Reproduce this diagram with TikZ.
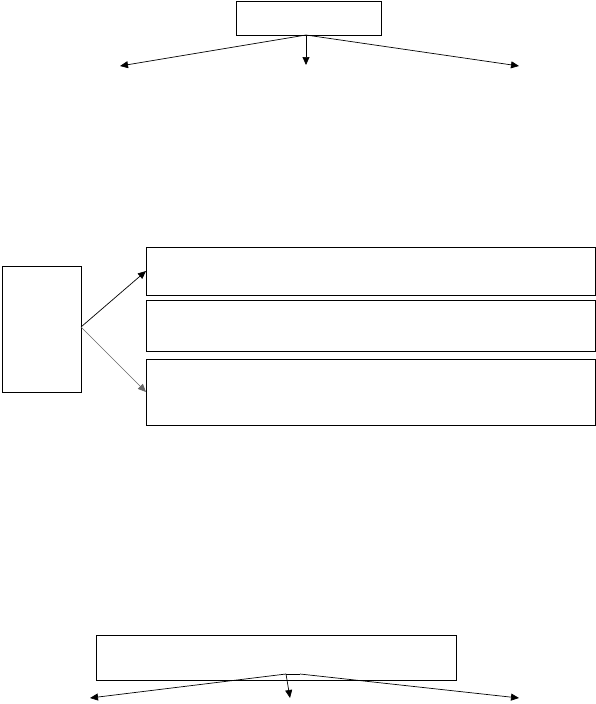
\documentclass[tikz,border=0pt]{standalone}
\usetikzlibrary{arrows.meta}
\begin{document}
\begin{tikzpicture}[x=1pt,y=-1pt,
  boxline/.style={draw=black,line width=0.9pt},
  conn/.style={draw=black,line width=0.7pt,-{Triangle[length=8pt,width=7pt]}},
  conngray/.style={draw=black!60,line width=0.7pt,-{Triangle[length=8pt,width=7pt]}}]
\useasboundingbox (0,0) rectangle (596,704);
% top
\coordinate (tb1) at (236,1);
\coordinate (tb2) at (381,35);
\draw[boxline] (tb1) rectangle (tb2);
\coordinate (ts) at (306,35);
\coordinate (tl) at (120,66);
\coordinate (tm) at (306,65);
\coordinate (tr) at (519,66);
\draw[conn] (ts) -- (tl);
\draw[conn] (ts) -- (tm);
\draw[conn] (ts) -- (tr);
% middle
\coordinate (lb1) at (2,266);
\coordinate (lb2) at (81,392);
\draw[boxline] (lb1) rectangle (lb2);
\draw[boxline] (146,247) rectangle (595,295);
\draw[boxline] (146,300) rectangle (595,351);
\draw[boxline] (146,359) rectangle (595,425);
\coordinate (ms) at (81,327);
\coordinate (m1) at (146,271);
\coordinate (m3) at (146,392);
\draw[conn] (ms) -- (m1);
\draw[conngray] (ms) -- (m3);
% bottom
\draw[boxline] (96,635) rectangle (456,680);
\coordinate (ba) at (286,674);
\coordinate (bb) at (300,674);
\draw[line width=0.7pt] (ba) -- (bb);
\coordinate (bl) at (90,698);
\coordinate (bm) at (290,698);
\coordinate (br) at (519,698);
\draw[conn] (ba) -- (bl);
\draw[conn] (ba) -- (bm);
\draw[conn] (bb) -- (br);
\end{tikzpicture}
\end{document}
